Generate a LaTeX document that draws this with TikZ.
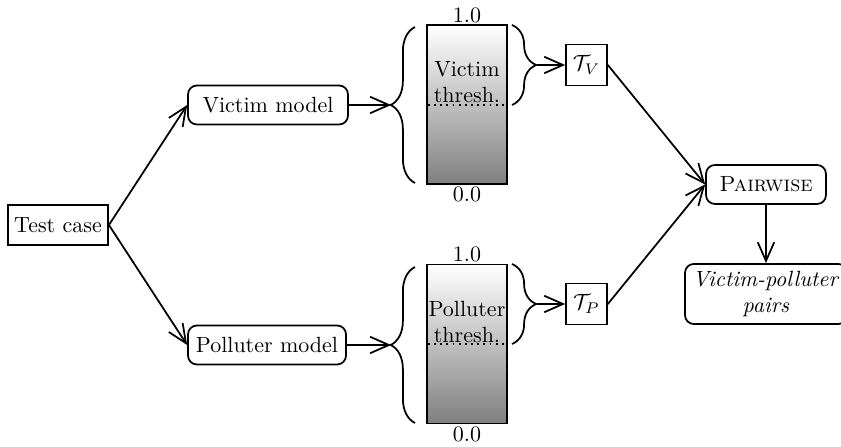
\documentclass[tikz,border=0pt]{standalone}
\usetikzlibrary{arrows.meta,decorations.pathreplacing,shapes.misc}
\begin{document}
\begin{tikzpicture}[x=0.4545pt,y=-0.4545pt,
  every node/.style={font=\normalsize},
  arr/.style={thick,-{Straight Barb[length=8.5pt,width=7.5pt]}},
  sqbox/.style={draw,thick,rectangle,inner sep=2pt,align=center},
  rbox/.style={draw,thick,rounded corners=4pt,inner sep=2pt,align=center},
  bar/.style={draw,thick,rectangle,minimum width=36.4pt,minimum height=72.3pt,inner sep=0pt,top color=white,bottom color=black!50},
  brc/.style={thick,decorate,decoration={brace,amplitude=11pt}},
  lbl/.style={inner sep=0pt,align=center}]
\useasboundingbox (0,0) rectangle (841,447);

% nodes
\node[sqbox,minimum width=45.5pt,minimum height=18pt] (tc) at (58,225) {Test case};
\node[rbox,minimum width=72.7pt,minimum height=17.7pt] (vm) at (268,105) {Victim model};
\node[rbox,minimum width=71.8pt,minimum height=17.7pt] (pm) at (267,345) {Polluter model};

\node[bar] (vb) at (467,104.5) {};
\node[bar] (pb) at (467,344) {};
\node[lbl] at (467,82) {Victim\\thresh.};
\node[lbl] at (467,322) {Polluter\\thresh.};
\node[lbl] at (467,15) {1.0};
\node[lbl] at (467,194) {0.0};
\node[lbl] at (467,254) {1.0};
\node[lbl] at (467,434) {0.0};
\draw[thick,dotted] (428,105) -- (506,105);
\draw[thick,dotted] (428,344) -- (506,344);

\draw[brc] (415,183) -- (415,27);
\draw[brc] (512,25) -- (512,105);
\draw[brc] (415,423) -- (415,267);
\draw[brc] (512,264) -- (512,344);
\coordinate (vbl) at (391,105);
\coordinate (vbr) at (537,65);
\coordinate (pbl) at (391,345);
\coordinate (pbr) at (537,304);

\node[sqbox,minimum width=18.6pt,minimum height=18.6pt,inner sep=0pt] (tv) at (586.5,65) {$\mathcal{T}_V$};
\node[sqbox,minimum width=18.6pt,minimum height=18.6pt,inner sep=0pt] (tp) at (586.5,304) {$\mathcal{T}_P$};

\node[rbox,minimum width=54.5pt,minimum height=17.7pt] (pw) at (766,184.5) {\textsc{Pairwise}};
\node[rbox,minimum width=73.6pt,minimum height=27.3pt] (vp) at (766,294) {\textit{Victim-polluter}\\\textit{pairs}};

% connectors
\draw[arr] (tc.east) -- (vm.west);
\draw[arr] (tc.east) -- (pm.west);
\draw[arr] (vm.east) -- (vbl);
\draw[arr] (pm.east) -- (pbl);
\draw[arr] (vbr) -- (tv.west);
\draw[arr] (pbr) -- (tp.west);
\draw[arr] (tv.east) -- (pw.west);
\draw[arr] (tp.east) -- (pw.west);
\draw[arr] (pw.south) -- (vp.north);
\end{tikzpicture}
\end{document}
